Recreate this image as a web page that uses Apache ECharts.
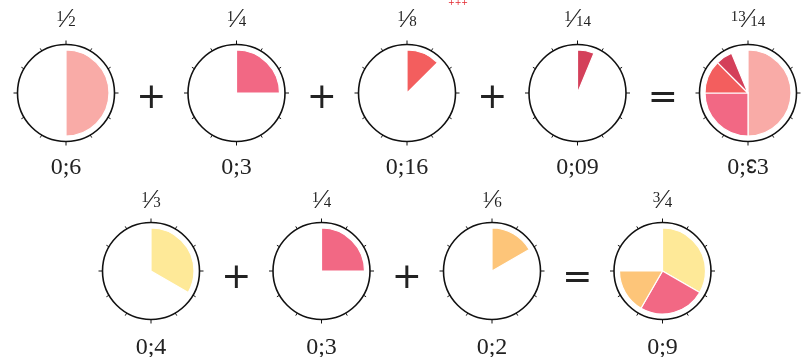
<!DOCTYPE html>
<html>
<head>
<meta charset="utf-8">
<script src="https://cdn.jsdelivr.net/npm/echarts@6/dist/echarts.min.js"></script>
<style>
  html, body { margin: 0; padding: 0; background: #fff; }
  #chart { width: 804px; height: 357px; }
</style>
</head>
<body>
<div id="chart"></div>
<script>
// Dozenal fractions: top label is the fraction, bottom label the dozenal point value
const row1Values = [0.5, 0.25, 0.125, 0.0625];
const row1Colors = ['#f9aba7', '#f26884', '#f35e5e', '#d4405a'];
const row1Fracs = [['1', '2'], ['1', '4'], ['1', '8'], ['1', '14'], ['13', '14']];
const row1Points = ['0;6', '0;3', '0;16', '0;09', '0;\u218B3'];

const row2Values = [0.3333, 0.25, 0.1667];
const row2Colors = ['#fee998', '#f26884', '#fdc579'];
const row2Fracs = [['1', '3'], ['1', '4'], ['1', '6'], ['3', '4']];
const row2Points = ['0;4', '0;3', '0;2', '0;9'];

const chart = echarts.init(document.getElementById('chart'));

const SERIF = '"Liberation Serif", "DejaVu Serif", serif';
const ring = 48.5, pieR = 43, step = 170.5;
const rows = [
    { values: row1Values, colors: row1Colors, fracs: row1Fracs, points: row1Points,
      x0: 66, cy: 93, topY: 20, botY: 168, opY: 99 },
    { values: row2Values, colors: row2Colors, fracs: row2Fracs, points: row2Points,
      x0: 151, cy: 271, topY: 201, botY: 348, opY: 279 }
];

const polar = [], angleAxis = [], radiusAxis = [], series = [], graphic = [];

function addDial(cx, cy) {
    const i = polar.length;
    polar.push({ center: [cx, cy], radius: ring });
    angleAxis.push({
        polarIndex: i, type: 'value', min: 0, max: 12, interval: 3,
        startAngle: 90, clockwise: true,
        axisLine: { lineStyle: { color: '#111', width: 1.6 } },
        axisTick: { length: 4, lineStyle: { color: '#111', width: 1 } },
        minorTick: { show: true, splitNumber: 3, length: 3, lineStyle: { color: '#111', width: 1 } },
        axisLabel: { show: false },
        splitLine: { show: false }
    });
    radiusAxis.push({ polarIndex: i, type: 'value', min: 0, max: 1, show: false });
}

function addPie(cx, cy, data) {
    series.push({
        type: 'pie', center: [cx, cy], radius: pieR,
        startAngle: 90, clockwise: true, silent: true,
        label: { show: false }, labelLine: { show: false },
        emphasis: { disabled: true },
        itemStyle: { borderColor: '#fff', borderWidth: 1.2 },
        data: data
    });
}

function addText(x, y, text, style) {
    graphic.push({
        type: 'text', x: x, y: y, silent: true,
        style: Object.assign({ text: text, align: 'center', verticalAlign: 'middle', fill: '#222' }, style)
    });
}

const fracRich = {
    n: { fontFamily: SERIF, fontSize: 15, lineHeight: 14, verticalAlign: 'top', fill: '#222' },
    s: { fontFamily: SERIF, fontSize: 28, lineHeight: 20, fill: '#222' },
    d: { fontFamily: SERIF, fontSize: 15, lineHeight: 14, verticalAlign: 'bottom', fill: '#222' }
};
// the dozenal "eleven" glyph comes from a fallback font, so shrink it a bit
const pointRich = {
    e: { fontFamily: '"DejaVu Serif", serif', fontSize: 20, fill: '#222' }
};

rows.forEach(r => {
    const n = r.values.length;
    for (let k = 0; k <= n; k++) {
        const cx = r.x0 + step * k;
        addDial(cx, r.cy);
        let data;
        if (k < n) {
            data = [
                { value: r.values[k], itemStyle: { color: r.colors[k] } },
                { value: 1 - r.values[k], itemStyle: { color: 'rgba(0,0,0,0)', borderWidth: 0 } }
            ];
        } else {
            const sum = r.values.reduce((a, b) => a + b, 0);
            data = r.values.map((v, j) => ({ value: v, itemStyle: { color: r.colors[j] } }));
            data.push({ value: 1 - sum, itemStyle: { color: 'rgba(0,0,0,0)', borderWidth: 0 } });
        }
        addPie(cx, r.cy, data);
        const f = r.fracs[k];
        addText(cx, r.topY, '{n|' + f[0] + '}{s|\u2044}{d|' + f[1] + '}', { rich: fracRich });
        addText(cx, r.botY, r.points[k].replace('\u218B', '{e|\u218B}'),
            { fontFamily: SERIF, fontSize: 24, rich: pointRich });
        if (k > 0) {
            const op = k === n ? '=' : '+';
            addText(cx - step / 2, r.opY, op, { fontFamily: '"DejaVu Sans", sans-serif', fontSize: 36, fill: '#222' });
        }
    }
});

// clipped remnant of a line above the figure
addText(458, 3, '+++', { fontFamily: '"DejaVu Sans", sans-serif', fontSize: 8, fill: '#e3262e' });

chart.setOption({
    animation: false,
    backgroundColor: '#fff',
    polar: polar,
    angleAxis: angleAxis,
    radiusAxis: radiusAxis,
    series: series,
    graphic: graphic
});
</script>
</body>
</html>
